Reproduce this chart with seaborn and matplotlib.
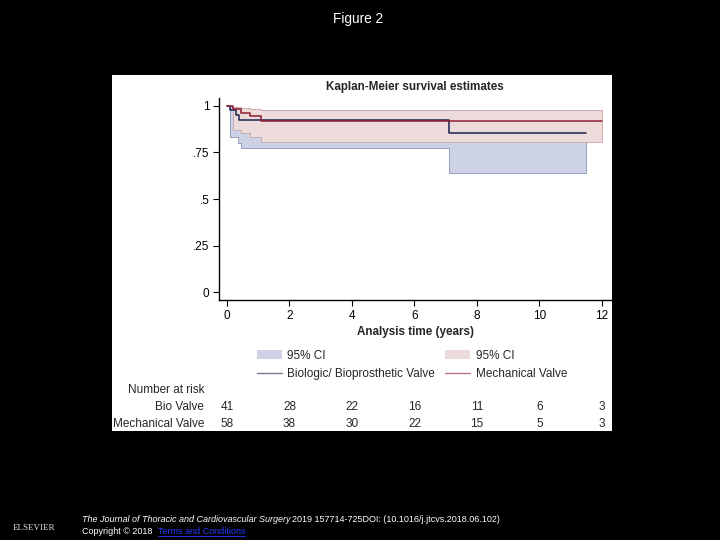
#!/usr/bin/env python3
"""
Kaplan-Meier survival estimates, biologic vs mechanical valve (Figure 2).
"""

import matplotlib

matplotlib.use("Agg")
import matplotlib.pyplot as plt
import matplotlib.transforms as mtransforms
import pandas as pd
import seaborn as sns
from matplotlib.lines import Line2D
from matplotlib.patches import Patch, Rectangle

# survival curves (step post)
bio_time = [0.0, 0.1, 0.28, 0.38, 7.1, 11.5]
bio_surv = [1.0, 0.976, 0.951, 0.925, 0.857, 0.857]
mech_time = [0.0, 0.2, 0.45, 0.75, 1.1, 12.0]
mech_surv = [1.0, 0.982, 0.964, 0.945, 0.922, 0.922]

# 95% confidence bands
bio_ci_time = [0.1, 0.35, 0.45, 7.1, 11.5]
bio_ci_low = [0.833, 0.80, 0.775, 0.64, 0.64]
bio_ci_high = [0.997, 0.99, 0.978, 0.96, 0.96]
mech_ci_time = [0.2, 0.45, 0.75, 1.1, 12.0]
mech_ci_low = [0.872, 0.856, 0.832, 0.806, 0.806]
mech_ci_high = [0.997, 0.99, 0.983, 0.978, 0.978]

# number at risk table
risk_times = [0, 2, 4, 6, 8, 10, 12]
risk_bio = [41, 28, 22, 16, 11, 6, 3]
risk_mech = [58, 38, 30, 22, 15, 5, 3]

x_ticks = [0, 2, 4, 6, 8, 10, 12]
y_ticks = [0, 0.25, 0.5, 0.75, 1.0]
y_tick_labels = ["0", ".25", ".5", ".75", "1"]

BIO_LINE = "#1c2150"
MECH_LINE = "#8e1e32"
BIO_FILL = "#cdd2e6"
BIO_EDGE = "#8a93b3"
MECH_FILL = "#eddada"
MECH_EDGE = "#c7a3a6"


def main():
    sns.set_theme(style="ticks")
    plt.rcParams["font.family"] = ["Liberation Sans", "DejaVu Sans"]
    fs = 8.5

    fig = plt.figure(figsize=(7.2, 5.4), dpi=100, facecolor="black")
    # white graph panel
    fig.add_artist(Rectangle((112 / 720, 1 - 431 / 540), 500 / 720, 356 / 540,
                             transform=fig.transFigure, facecolor="white",
                             edgecolor="none", zorder=0))

    ax = fig.add_axes([219 / 720, 1 - 300 / 540, 393 / 720, 202 / 540])
    ax.set_facecolor("white")

    ax.fill_between(bio_ci_time, bio_ci_low, bio_ci_high, step="post",
                    facecolor=BIO_FILL, edgecolor=BIO_EDGE, linewidth=0.6, zorder=1)
    ax.fill_between(mech_ci_time, mech_ci_low, mech_ci_high, step="post",
                    facecolor=MECH_FILL, edgecolor=MECH_EDGE, linewidth=0.6, zorder=2)

    bio_df = pd.DataFrame({"t": bio_time, "s": bio_surv})
    mech_df = pd.DataFrame({"t": mech_time, "s": mech_surv})
    sns.lineplot(data=bio_df, x="t", y="s", ax=ax, color=BIO_LINE, lw=1.1,
                 drawstyle="steps-post", estimator=None, sort=False, zorder=3)
    sns.lineplot(data=mech_df, x="t", y="s", ax=ax, color=MECH_LINE, lw=1.1,
                 drawstyle="steps-post", estimator=None, sort=False, zorder=4)

    ax.set_xlim(-0.256, 12.32)
    ax.set_ylim(-0.043, 1.043)
    ax.set_xticks(x_ticks)
    ax.set_xticklabels([str(t) for t in x_ticks])
    ax.set_yticks(y_ticks)
    ax.set_yticklabels(y_tick_labels)
    ax.tick_params(axis="both", direction="out", length=4, width=0.8,
                   labelsize=fs, colors="black", pad=3)
    sns.despine(ax=ax)
    for side in ("left", "bottom"):
        ax.spines[side].set_color("black")
        ax.spines[side].set_linewidth(1.0)

    ax.set_xlabel("Analysis time (years)", fontsize=8.4, fontweight="bold",
                  labelpad=3)
    ax.set_ylabel("")
    fig.text(415 / 720, 1 - 87 / 540, "Kaplan-Meier survival estimates",
             ha="center", va="center", fontsize=8.4, fontweight="bold")

    handles = [
        Patch(facecolor=BIO_FILL, edgecolor="none", label="95% CI"),
        Line2D([], [], color=BIO_LINE, lw=1.0, alpha=0.6,
               label="Biologic/ Bioprosthetic Valve"),
        Patch(facecolor=MECH_FILL, edgecolor="none", label="95% CI"),
        Line2D([], [], color=MECH_LINE, lw=1.0, alpha=0.6, label="Mechanical Valve"),
    ]
    fig.legend(handles=handles, ncol=2, loc="upper left",
               bbox_to_anchor=(257 / 720, 1 - 350 / 540), frameon=False,
               fontsize=fs, handlelength=2.1, handleheight=0.8, handletextpad=0.45,
               columnspacing=0.9, borderpad=0, borderaxespad=0, labelspacing=0.55)

    # number at risk
    trans = mtransforms.blended_transform_factory(ax.transData, fig.transFigure)
    fig.text(204 / 720, 1 - 390 / 540, "Number at risk", ha="right", va="center",
             fontsize=fs)
    fig.text(204 / 720, 1 - 407 / 540, "Bio Valve", ha="right", va="center",
             fontsize=fs)
    fig.text(204 / 720, 1 - 424 / 540, "Mechanical Valve", ha="right", va="center",
             fontsize=fs)
    for t, nb, nm in zip(risk_times, risk_bio, risk_mech):
        ax.text(t, 1 - 407 / 540, str(nb), transform=trans, ha="center",
                va="center", fontsize=fs, clip_on=False)
        ax.text(t, 1 - 424 / 540, str(nm), transform=trans, ha="center",
                va="center", fontsize=fs, clip_on=False)

    # page furniture
    fig.text(358 / 720, 1 - 19 / 540, "Figure 2", ha="center", va="center",
             color="white", fontsize=9.8)
    fig.text(34 / 720, 1 - 528 / 540, "ELSEVIER", ha="center", va="center",
             color="#dddddd", fontsize=6.5, family=["Liberation Serif", "DejaVu Serif"])

    renderer = fig.canvas.get_renderer()
    t1 = fig.text(82 / 720, 1 - 520 / 540,
                  "The Journal of Thoracic and Cardiovascular Surgery",
                  ha="left", va="center", color="white", fontsize=6.5, style="italic")
    x1 = t1.get_window_extent(renderer).x1 / 720
    fig.text(x1 + 2 / 720, 1 - 520 / 540,
             "2019 157714-725DOI: (10.1016/j.jtcvs.2018.06.102)",
             ha="left", va="center", color="white", fontsize=6.5)
    t2 = fig.text(82 / 720, 1 - 531 / 540, "Copyright \u00a9 2018 ",
                  ha="left", va="center", color="white", fontsize=6.5)
    x2 = t2.get_window_extent(renderer).x1 / 720
    t3 = fig.text(x2 + 3 / 720, 1 - 531 / 540, "Terms and Conditions",
                  ha="left", va="center", color="#2a3cff", fontsize=6.5)
    bb = t3.get_window_extent(renderer)
    fig.add_artist(Line2D([bb.x0 / 720, bb.x1 / 720], [bb.y0 / 540, bb.y0 / 540],
                          transform=fig.transFigure, color="#2a3cff", lw=0.6))

    fig.savefig("out.png", dpi=100, facecolor="black")
    plt.close(fig)


if __name__ == "__main__":
    main()
